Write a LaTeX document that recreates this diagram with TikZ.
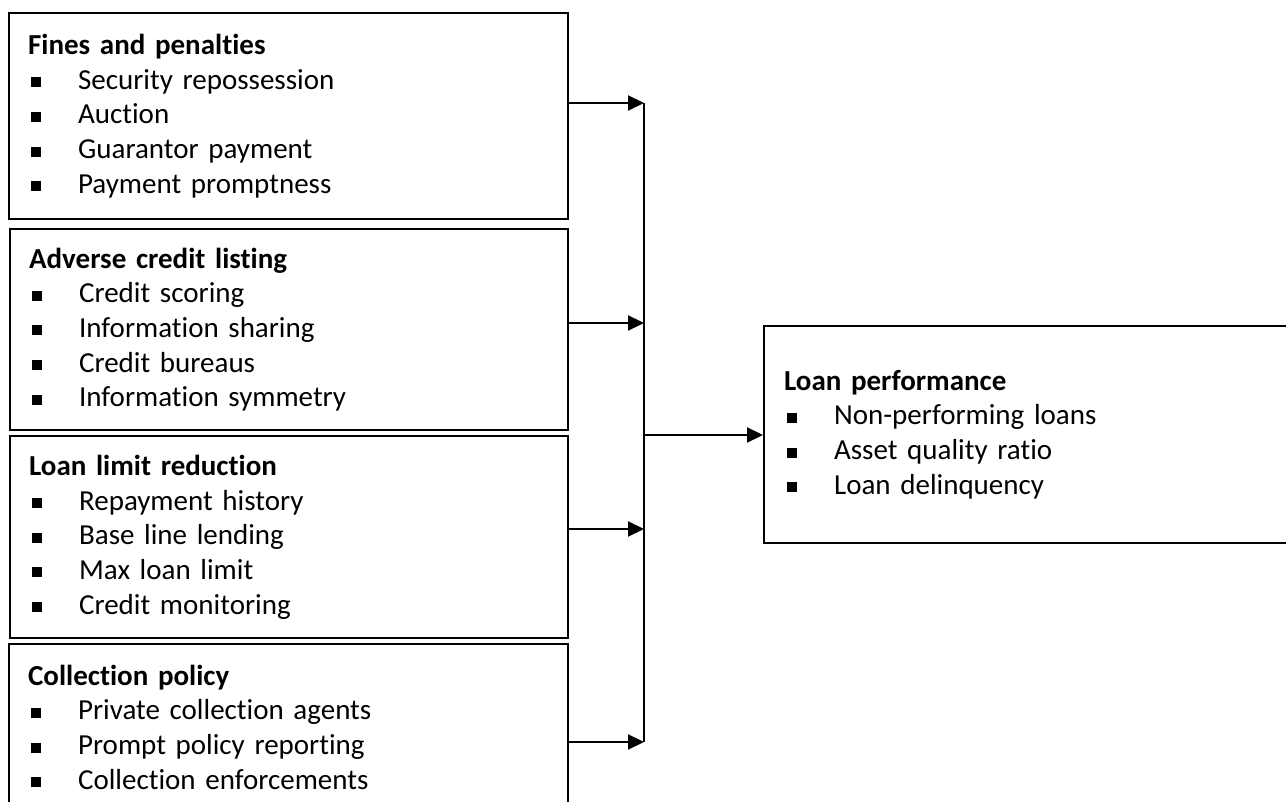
\documentclass[tikz,border=0pt]{standalone}
\usepackage{fontspec}
\setmainfont{Carlito}[Ligatures={NoCommon}]
\usepackage{tikz}
\usetikzlibrary{arrows.meta,positioning,calc}
\tikzstyle{factorbox} = [draw, line width=2.2pt, anchor=north west, align=left, inner xsep=19pt, inner ysep=0pt, font=\fontsize{29}{34.7}\selectfont]
\tikzstyle{conn} = [line width=2.2pt, -{Triangle[length=16pt,width=15pt]}]
\newcommand{\blt}{\makebox[50pt][l]{\hspace{3pt}\rule[2pt]{10pt}{10pt}}}

\begin{document}
\begin{tikzpicture}[x=1pt, y=-1pt]
\useasboundingbox (0,0) rectangle (1286,802);

% Fines and penalties
\node[factorbox, text width=521pt, minimum height=206pt] (fines) at (8,12) {\textbf{Fines and penalties}\\
\blt Security repossession\\
\blt Auction\\
\blt Guarantor payment\\
\blt Payment promptness};

% Adverse credit listing
\node[factorbox, text width=520pt, minimum height=201pt] (adverse) at (9,228) {\textbf{Adverse credit listing}\\
\blt Credit scoring\\
\blt Information sharing\\
\blt Credit bureaus\\
\blt Information symmetry};

% Loan limit reduction
\node[factorbox, text width=520pt, minimum height=202pt] (limit) at (9,435) {\textbf{Loan limit reduction}\\
\blt Repayment history\\
\blt Base line lending\\
\blt Max loan limit\\
\blt Credit monitoring};

% Collection policy
\node[factorbox, text width=521pt, minimum height=166pt] (collect) at (8,643) {\textbf{Collection policy}\\
\blt Private collection agents\\
\blt Prompt policy reporting\\
\blt Collection enforcements};

% Loan performance
\node[factorbox, inner xsep=20pt, text width=489pt, minimum height=217pt] (perf) at (763,325) {\textbf{Loan performance}\\
\blt Non-performing loans\\
\blt Asset quality ratio\\
\blt Loan delinquency};

% Bus line
\coordinate (j1) at (644,103);
\coordinate (j2) at (644,323);
\coordinate (j3) at (644,529);
\coordinate (j4) at (644,742);
\coordinate (jm) at (644,435);
\draw[line width=2.2pt] (j1) -- (j4);
\draw[conn] (fines.east |- j1) -- (j1);
\draw[conn] (adverse.east |- j2) -- (j2);
\draw[conn] (limit.east |- j3) -- (j3);
\draw[conn] (collect.east |- j4) -- (j4);
\draw[conn] (jm) -- (jm -| perf.west);
\end{tikzpicture}
\end{document}
